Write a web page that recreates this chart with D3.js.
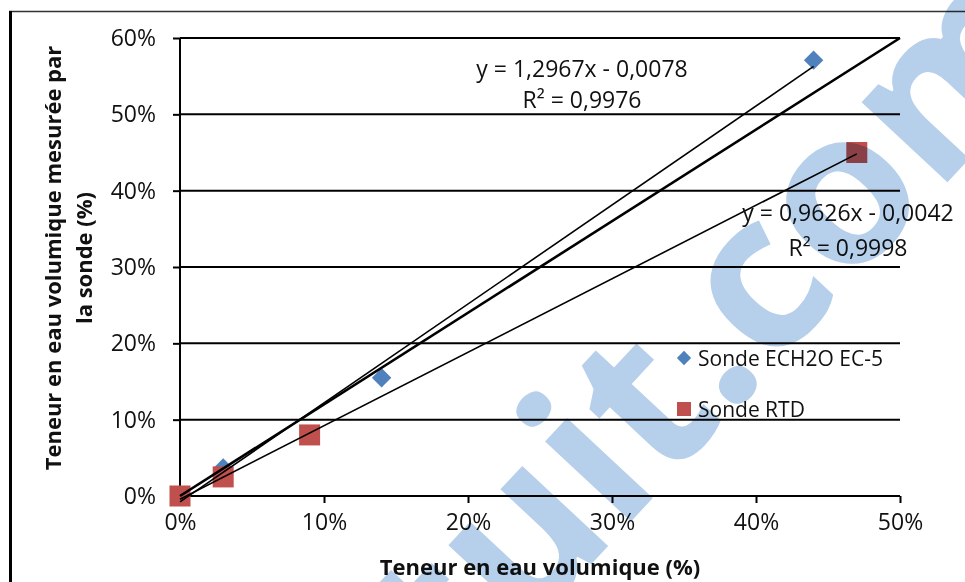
<!DOCTYPE html>
<meta charset="utf-8">
<style>
  body { margin: 0; background: white; }
  .tick text { font-family: "Open Sans", sans-serif; font-size: 23px; fill: #111; }
  .axisTitle { font-family: "Open Sans", sans-serif; font-size: 22px; font-weight: 700; fill: #111; }
  .eq { font-family: "Open Sans", sans-serif; font-size: 23px; fill: #111; text-anchor: middle; }
  .legend { font-family: "Open Sans", sans-serif; font-size: 21px; fill: #111; }
  .watermark { font-family: "Open Sans", sans-serif; font-weight: 700; font-size: 215px; fill: #b6cfeb; mix-blend-mode: multiply; }
</style>
<body>
<script src="https://cdn.jsdelivr.net/npm/d3@7"></script>
<script>

// data
const ec5X = [0, 0.03, 0.14, 0.44],
      ec5Y = [0, 0.0367, 0.155, 0.571]
const rtdX = [0, 0.03, 0.09, 0.47],
      rtdY = [0, 0.025, 0.08, 0.45]

// trendlines as printed on the chart
const fitNames = ["ec5", "rtd"],
      fitSlope = [1.2967, 0.9626],
      fitIntercept = [-0.0078, -0.0042],
      fitLabels = [["y = 1,2967x - 0,0078", "R² = 0,9976"],
                   ["y = 0,9626x - 0,0042", "R² = 0,9998"]]

// the heavy line through the plot
const refX = [0, 0.5],
      refY = [0, 0.6]

const xTicks = [0, 0.1, 0.2, 0.3, 0.4, 0.5],
      yTicks = [0, 0.1, 0.2, 0.3, 0.4, 0.5, 0.6]

const legendNames = ["Sonde ECH2O EC-5", "Sonde RTD"]

const colors = {ec5: '#4f81bd', rtd: '#c0504d'}

const W = 965, H = 582
const margin = {top: 38, right: 65, bottom: 86, left: 180}

const svg = d3.select("body").append("svg")
  .attr("width", W)
  .attr("height", H)

// outer frame (only top and left edges show)
svg.append("line")
  .attr("x1", 9).attr("x2", W).attr("y1", 11.5).attr("y2", 11.5)
  .attr("stroke", "#333").attr("stroke-width", 1.5)
svg.append("line")
  .attr("x1", 10.5).attr("x2", 10.5).attr("y1", 11).attr("y2", H)
  .attr("stroke", "#000").attr("stroke-width", 3)

const x = d3.scaleLinear().domain([0, 0.5]).range([margin.left, W - margin.right])
const y = d3.scaleLinear().domain([0, 0.6]).range([H - margin.bottom, margin.top])

// gridlines
svg.append("g")
  .selectAll("line")
  .data(yTicks.slice(1))
  .enter().append("line")
    .attr("x1", x(0)).attr("x2", x(0.5))
    .attr("y1", d => y(d)).attr("y2", d => y(d))
    .attr("stroke", "#000").attr("stroke-width", 2)

const fmt = d3.format(".0%")

const xAxis = svg.append("g")
  .attr("transform", `translate(0, ${y(0)})`)
  .call(d3.axisBottom(x).tickValues(xTicks).tickFormat(fmt).tickSize(7).tickPadding(11))
const yAxis = svg.append("g")
  .attr("transform", `translate(${x(0)}, 0)`)
  .call(d3.axisLeft(y).tickValues(yTicks).tickFormat(fmt).tickSize(7).tickPadding(17))

svg.selectAll(".domain").attr("stroke", "#000").attr("stroke-width", 2)
svg.selectAll(".tick line").attr("stroke", "#000").attr("stroke-width", 2)
xAxis.select(".domain").attr("d", `M${x(0)},0H${x(0.5)}`)
yAxis.select(".domain").attr("d", `M0,${y(0)}V${y(0.6)}`)

// axis titles
svg.append("text")
  .attr("class", "axisTitle")
  .attr("x", 540).attr("y", 575)
  .attr("text-anchor", "middle")
  .text("Teneur en eau volumique (%)")

const yTitle = svg.append("text")
  .attr("class", "axisTitle")
  .attr("transform", "translate(0, 258) rotate(-90)")
  .attr("text-anchor", "middle")
yTitle.append("tspan").attr("x", 0).attr("y", 61).text("Teneur en eau volumique mesurée par")
yTitle.append("tspan").attr("x", 0).attr("y", 92).text("la sonde (%)")

// markers
const diamond = d3.symbol().type(d3.symbolDiamond2).size(240)
const ec5 = d3.zip(ec5X, ec5Y)
const rtd = d3.zip(rtdX, rtdY)

svg.append("g").selectAll("path")
  .data(ec5)
  .enter().append("path")
    .attr("d", diamond)
    .attr("transform", d => `translate(${x(d[0])}, ${y(d[1])})`)
    .attr("fill", colors.ec5)

const sq = 21
svg.append("g").selectAll("rect")
  .data(rtd)
  .enter().append("rect")
    .attr("x", d => x(d[0]) - sq/2)
    .attr("y", d => y(d[1]) - sq/2)
    .attr("width", sq).attr("height", sq)
    .attr("fill", colors.rtd)

// trendlines
const line = d3.line().x(d => x(d[0])).y(d => y(d[1]))
const fitMax = [d3.max(ec5X), d3.max(rtdX)]
fitNames.forEach((name, i) => {
  const pts = [0, fitMax[i]].map(v => [v, fitSlope[i] * v + fitIntercept[i]])
  svg.append("path")
    .attr("d", line(pts))
    .attr("fill", "none")
    .attr("stroke", "#000")
    .attr("stroke-width", 1.6)
})

svg.append("path")
  .attr("d", line(d3.zip(refX, refY)))
  .attr("fill", "none")
  .attr("stroke", "#000")
  .attr("stroke-width", 2.6)

// equation labels
const eqPos = [[582, 77, 108], [848, 221, 256]]
fitLabels.forEach((lbl, i) => {
  svg.append("text").attr("class", "eq")
    .attr("x", eqPos[i][0]).attr("y", eqPos[i][1]).text(lbl[0])
  svg.append("text").attr("class", "eq")
    .attr("x", eqPos[i][0]).attr("y", eqPos[i][2]).text(lbl[1])
})

// legend
const legend = svg.append("g").attr("transform", "translate(684, 358)")
legend.append("path")
  .attr("d", d3.symbol().type(d3.symbolDiamond2).size(130))
  .attr("fill", colors.ec5)
legend.append("rect")
  .attr("x", -7).attr("y", 44).attr("width", 14).attr("height", 14)
  .attr("fill", colors.rtd)
legend.selectAll("text.legend")
  .data(legendNames)
  .enter().append("text")
    .attr("class", "legend")
    .attr("x", 14)
    .attr("y", (d, i) => 8 + i * 51)
    .text(d => d)

// watermark
svg.append("text")
  .attr("class", "watermark")
  .attr("transform", "translate(1080, 40) rotate(-47)")
  .attr("text-anchor", "end")
  .text("gratuit.com")

</script>
</body>
